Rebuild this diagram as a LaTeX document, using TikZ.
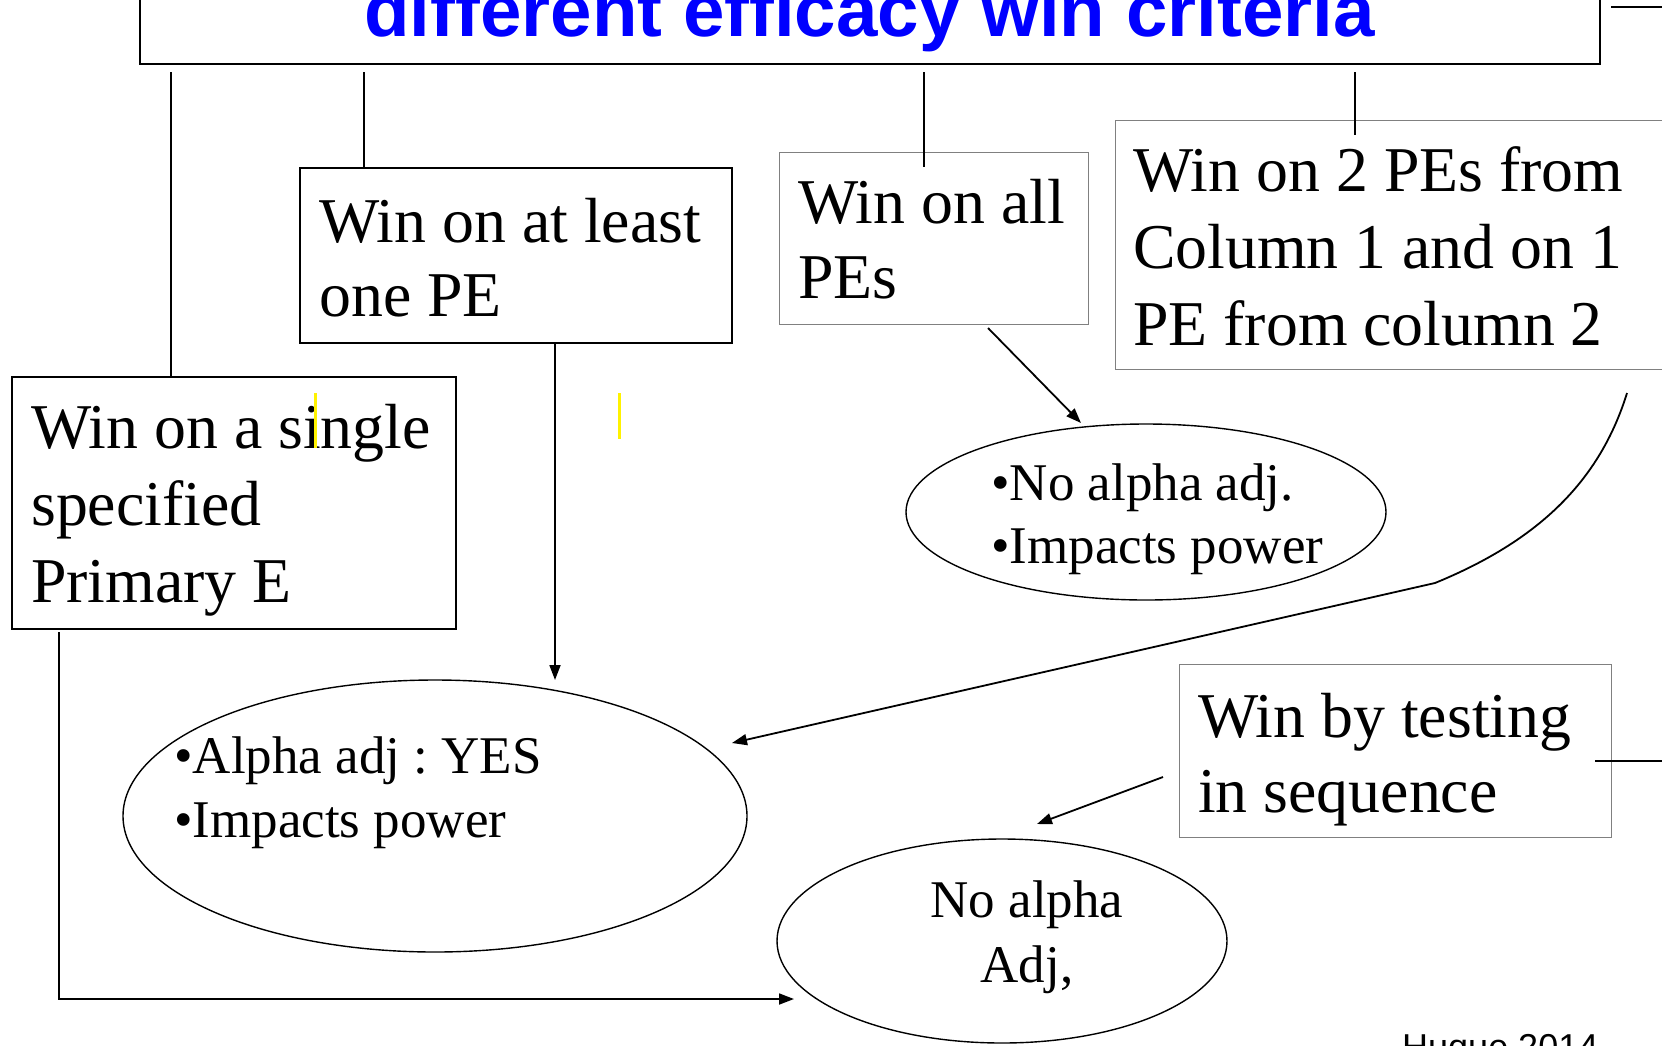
\documentclass[tikz,border=0pt]{standalone}
\usepackage{fontspec}
\setmainfont{Liberation Serif}
\newfontfamily\arialfont{Liberation Sans}
\usetikzlibrary{arrows.meta,shapes.geometric}
\frenchspacing

\begin{document}
\begin{tikzpicture}[x=1pt,y=-1pt,
  blackbox/.style={rectangle,draw=black,line width=1.6pt,inner sep=0pt,anchor=north west},
  graybox/.style={rectangle,draw=black!50,line width=1.2pt,inner sep=0pt,anchor=north west},
  boxtext/.style={font=\fontsize{63.8}{75}\selectfont,anchor=base west,inner sep=0pt},
  ovaltext/.style={font=\fontsize{53}{64}\selectfont,anchor=base west,inner sep=0pt},
  oval/.style={ellipse,draw=black,line width=1.4pt,inner sep=0pt},
  link/.style={draw=black,line width=1.8pt},
  arrowlink/.style={link,-{Triangle[length=15pt,width=11pt]}},
  marker/.style={draw=yellow,line width=3pt},
]
\useasboundingbox (0,0) rectangle (1662,1045);
\clip (0,0) rectangle (1662,1045);

% title banner (its top runs past the page edge)
\node[blackbox,line width=2.2pt,minimum width=1460pt,minimum height=140pt] (title) at (139,-77) {};
\node[font={\arialfont\fontsize{74.5}{80}\selectfont\bfseries},text={rgb,255:red,0;green,0;blue,255},
      anchor=base,inner sep=0pt] (titletext) at (869.5,36) {different efficacy win criteria};
\coordinate (tick) at (1611,7);
\coordinate (tickend) at (1662,7);
\draw[link,line width=2.2pt] (tick) -- (tickend);

% criteria boxes
\node[blackbox,minimum width=432pt,minimum height=175pt] (atleast) at (299,167) {};
\node[graybox,minimum width=309pt,minimum height=172pt] (allpes) at (779,152) {};
\node[graybox,minimum width=585pt,minimum height=249pt] (twope) at (1115,120) {};
\node[blackbox,minimum width=444pt,minimum height=252pt] (single) at (11,376) {};
\node[graybox,minimum width=432pt,minimum height=173pt] (testing) at (1179,664) {};

\node[boxtext] (atleast1) at (319,242) {Win on at least};
\node[boxtext] (atleast2) at (319,316) {one PE};
\node[boxtext] (allpes1) at (798,223) {Win on all};
\node[boxtext] (allpes2) at (798,298) {PEs};
\node[boxtext] (twope1) at (1133,191) {Win on 2 PEs from};
\node[boxtext] (twope2) at (1133,268) {Column 1 and on 1};
\node[boxtext] (twope3) at (1133,345) {PE from column 2};
\node[boxtext] (single1) at (31,448) {Win on a single};
\node[boxtext] (single2) at (31,525) {specified};
\node[boxtext] (single3) at (31,602) {Primary E};
\node[boxtext] (testing1) at (1198,737) {Win by testing};
\node[boxtext] (testing2) at (1198,812) {in sequence};

% outcome ellipses
\node[oval,minimum width=480pt,minimum height=176pt] (noadj) at (1146,512) {};
\node[oval,minimum width=624pt,minimum height=272pt] (adjyes) at (435,816) {};
\node[oval,minimum width=450pt,minimum height=204pt] (seqadj) at (1002,941) {};

\node[ovaltext] (noadj1) at (991,500) {•No alpha adj.};
\node[ovaltext] (noadj2) at (991,563) {•Impacts power};
\node[ovaltext] (adjyes1) at (174,773) {•Alpha adj : YES};
\node[ovaltext] (adjyes2) at (174,837) {•Impacts power};
\node[ovaltext,anchor=base] (seqadj1) at (1027,917) {No alpha};
\node[ovaltext,anchor=base] (seqadj2) at (1027,982) {Adj,};

% drops from the banner
\coordinate (d1) at (171,72);
\coordinate (d2) at (364,72);
\coordinate (d3) at (924,72);
\coordinate (d4) at (1355,72);
\draw[link] (d1) -- (d1 |- single.north);
\draw[link] (d2) -- (d2 |- atleast.north);
\draw[link] (d3) -- ([yshift=-15pt]d3 |- allpes.north);
\draw[link] (d4) -- ([yshift=-15pt]d4 |- twope.north);

% arrows to the outcomes
\coordinate (atleastout) at (555,680);
\draw[arrowlink] (atleastout |- atleast.south) -- (atleastout);

\coordinate (allpesout) at (988,328);
\coordinate (noadjin) at (1081,423);
\draw[arrowlink] (allpesout) -- (noadjin);

\coordinate (twopeout) at (1627,393);
\coordinate (bend) at (1435,583);
\coordinate (adjyesin) at (732,743);
\draw[arrowlink] (twopeout) .. controls (1600,480) and (1540,540) .. (bend) -- (adjyesin);

\coordinate (testingout) at (1163,777);
\coordinate (seqadjin) at (1037,824);
\draw[arrowlink] (testingout) -- (seqadjin);

\coordinate (singleout) at (59,632);
\coordinate (seqadjleft) at (794,999);
\draw[arrowlink] (singleout) -- (singleout |- seqadjleft) -- (seqadjleft);

\coordinate (testingright) at (1595,761);
\coordinate (rightedge) at (1662,761);
\draw[link] (testingright) -- (rightedge);

% highlighter marks
\draw[marker] (315,393) -- (315,448);
\draw[marker] (619,393) -- (619,439);

% credit line
\node[font={\arialfont\fontsize{36}{40}\selectfont},anchor=base west,inner sep=0pt] (credit) at (1402,1059) {Huque 2014};
\end{tikzpicture}
\end{document}
